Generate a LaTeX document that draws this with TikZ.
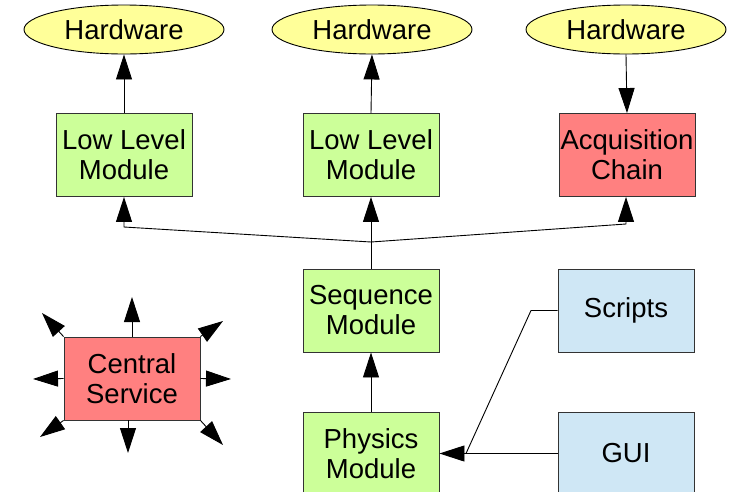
\documentclass[tikz,border=0pt]{standalone}
\usepackage{fontspec}
\setmainfont{Liberation Sans}
\usetikzlibrary{arrows.meta,shapes.geometric}
\definecolor{mgreen}{HTML}{CCFF99}
\definecolor{mred}{HTML}{FF8080}
\definecolor{mblue}{HTML}{CFE7F5}
\definecolor{myellow}{HTML}{FFFF99}
\definecolor{mborder}{HTML}{333333}
\begin{document}
\begin{tikzpicture}[x=1pt,y=-1pt,
  box/.style={draw=mborder,line width=0.9pt,minimum width=136pt,minimum height=83pt,align=center,inner sep=0pt,font=\fontsize{27.5}{30}\selectfont},
  gbox/.style={box,fill=mgreen},
  rbox/.style={box,fill=mred},
  bbox/.style={box,fill=mblue},
  hw/.style={ellipse,draw=black,line width=0.9pt,fill=myellow,minimum width=200pt,minimum height=49pt,inner sep=0pt,font=\fontsize{27.5}{30}\selectfont},
  conn/.style={draw=black,line width=0.9pt},
  arr/.style={conn,-{Triangle[length=25pt,width=16pt]}}
]
\useasboundingbox (0,0) rectangle (734,491);
\node[hw] (hw1) at (124,29.5) {Hardware};
\node[hw] (hw2) at (372,29.5) {Hardware};
\node[hw] (hw3) at (626,29.5) {Hardware};
\node[gbox] (ll1) at (124,155) {Low Level\\Module};
\node[gbox] (ll2) at (371,155) {Low Level\\Module};
\node[rbox] (acq) at (627,155) {Acquisition\\Chain};
\node[gbox] (seq) at (371,310.5) {Sequence\\Module};
\node[gbox] (phys) at (371,453.5) {Physics\\Module};
\node[bbox] (scr) at (626,310.5) {Scripts};
\node[bbox] (gui) at (626,453.5) {GUI};
\node[rbox] (cs) at (132,378.5) {Central\\Service};

\coordinate (j) at (371,242);
\coordinate (jl) at (124,227);
\coordinate (jr) at (626,224);
\coordinate (sk) at (531,310.5);
\coordinate (se) at (466,453.5);

\draw[arr] (ll1.north) -- (hw1.south);
\draw[arr] (ll2.north) -- (hw2.south);
\draw[arr] (hw3.south) -- (acq.north);
\draw[conn] (seq.north) -- (j);
\draw[arr] (j) -- (jl) -- (ll1.south);
\draw[arr] (j) -- (ll2.south);
\draw[arr] (j) -- (jr) -- (acq.south -| jr);
\draw[arr] (phys.north) -- (seq.south);
\draw[arr] (gui.west) -- (phys.east);
\draw[conn] (scr.west) -- (sk) -- (se);

\coordinate (cu) at (132,297);
\coordinate (cd) at (128,453);
\coordinate (cl) at (33,379);
\coordinate (cr) at (231,379);
\coordinate (cnw) at (42,313);
\coordinate (cne) at (223,321);
\coordinate (csw) at (40,437);
\coordinate (cse) at (223,445);
\draw[arr] (cs.north) -- (cu);
\draw[arr] (cs.south -| cd) -- (cd);
\draw[arr] (cs.west) -- (cl);
\draw[arr] (cs.east) -- (cr);
\draw[arr] (cs.north west) -- (cnw);
\draw[arr] (cs.north east) -- (cne);
\draw[arr] (cs.south west) -- (csw);
\draw[arr] (cs.south east) -- (cse);
\end{tikzpicture}
\end{document}
